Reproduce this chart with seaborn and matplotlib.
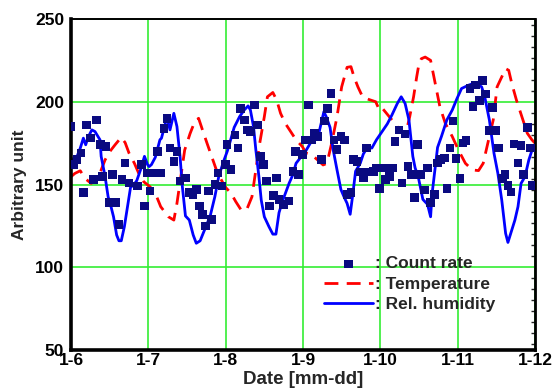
import numpy as np
import pandas as pd
import matplotlib
matplotlib.use("Agg")
import matplotlib.pyplot as plt
from matplotlib.ticker import MultipleLocator
import seaborn as sns

# ---- data (x in days since 1-6) ----
date_ticks = [0, 1, 2, 3, 4, 5, 6]
date_labels = ["1-6", "1-7", "1-8", "1-9", "1-10", "1-11", "1-12"]
y_ticks = [50, 100, 150, 200, 250]

count_x = [0.00, 0.04, 0.08, 0.13, 0.16, 0.20, 0.25, 0.29, 0.33, 0.38, 0.41, 0.45, 0.50, 0.54,
           0.58, 0.62, 0.66, 0.70, 0.75, 0.86, 0.91, 0.95, 0.99, 1.02, 1.05, 1.11, 1.16, 1.12,
           1.20, 1.24, 1.28, 1.33, 1.37, 1.41, 1.48, 1.53, 1.58, 1.62, 1.66, 1.70, 1.74, 1.78,
           1.82, 1.86, 1.90, 1.95, 2.00, 2.02, 2.07, 2.12, 2.16, 2.19, 2.24, 2.28, 2.32, 2.37,
           2.41, 2.45, 2.49, 2.53, 2.57, 2.62, 2.66, 2.69, 2.75, 2.82, 2.87, 2.90, 2.94, 2.99,
           3.03, 3.07, 3.11, 3.15, 3.19, 3.24, 3.28, 3.32, 3.36, 3.40, 3.44, 3.49, 3.54, 3.57,
           3.62, 3.65, 3.70, 3.74, 3.78, 3.82, 3.86, 3.91, 3.95, 3.99, 4.04, 4.07, 4.12, 4.16,
           4.19, 4.24, 4.28, 4.32, 4.36, 4.40, 4.44, 4.48, 4.52, 4.57, 4.61, 4.65, 4.70, 4.74,
           4.78, 4.83, 4.86, 4.90, 4.94, 4.98, 5.03, 5.07, 5.11, 5.16, 5.20, 5.23, 5.28, 5.32,
           5.36, 5.41, 5.45, 5.49, 5.53, 5.58, 5.61, 5.65, 5.69, 5.73, 5.78, 5.82, 5.85, 5.90,
           5.94, 5.97]
count_rate = [185, 162, 165, 169, 145, 186, 178, 153, 189, 174, 155, 173, 139, 156,
              139, 126, 153, 163, 151, 149, 162, 137, 157, 146, 157, 157, 157, 170,
              184, 190, 172, 164, 170, 152, 154, 145, 144, 147, 137, 132, 125, 146,
              129, 150, 157, 149, 162, 174, 159, 180, 172, 196, 189, 183, 182, 198,
              186, 167, 162, 152, 137, 143.5, 154, 141, 138, 140, 158, 170, 156, 168,
              177, 198, 177, 181, 179, 165, 188.5, 196, 205, 177, 171, 179, 177, 144,
              145, 165, 164, 157.5, 154, 172, 157.5, 158, 160, 147.5, 160, 153, 155, 160,
              176, 183, 151, 180.5, 161, 156, 142, 174, 156, 146.7, 160, 139, 144, 163,
              165, 166, 147.5, 172, 188.5, 165.6, 153.7, 175, 176.5, 208, 197, 210, 200.6, 212.7,
              204.7, 182.5, 196.6, 182.5, 172, 153.7, 156, 149.5, 145.5, 174.5, 163, 173.5, 156, 184.5,
              172, 149.5]

temp_x = [0.00, 0.05, 0.12, 0.18, 0.26, 0.34, 0.39, 0.44, 0.50, 0.57, 0.65, 0.70, 0.75, 0.82,
          0.88, 0.94, 1.02, 1.09, 1.16, 1.26, 1.33, 1.37, 1.42, 1.47, 1.54, 1.60, 1.65, 1.70,
          1.76, 1.82, 1.88, 1.93, 1.99, 2.07, 2.13, 2.20, 2.27, 2.34, 2.39, 2.44, 2.50, 2.54,
          2.61, 2.66, 2.71, 2.77, 2.84, 2.91, 2.99, 3.04, 3.11, 3.19, 3.26, 3.31, 3.37, 3.44,
          3.50, 3.57, 3.62, 3.66, 3.71, 3.77, 3.85, 3.94, 3.98, 4.01, 4.08, 4.15, 4.24, 4.30,
          4.34, 4.38, 4.43, 4.47, 4.50, 4.53, 4.58, 4.65, 4.71, 4.77, 4.84, 4.93, 5.01, 5.10,
          5.19, 5.27, 5.33, 5.40, 5.46, 5.51, 5.57, 5.62, 5.66, 5.70, 5.76, 5.83, 5.90, 5.96,
          6.00]
temperature = [154.7, 156.7, 158.3, 153.7, 150.7, 152.7, 158.8, 164.8, 169.8, 174, 178.5, 175.3, 169, 162.8,
               156.3, 151.7, 148.7, 144.7, 136.6, 130.5, 128.5, 138.6, 154.7, 170.8, 180.8, 188, 190, 183,
               174.8, 166.8, 158.8, 154, 148.7, 144.7, 139.7, 134.6, 134.6, 142.6, 158.8, 174.8, 191, 203,
               205.6, 201, 193, 187, 182, 177, 173, 169, 168, 164.8, 161.8, 162.8, 174.8, 191,
               209, 220.8, 221.2, 215, 209, 203, 201.4, 200, 195.8, 197, 193, 189, 183.7, 179.7,
               183, 191, 203, 215, 223, 226, 227, 225, 211, 197, 187, 179, 170.8, 162.8,
               158.8, 158.4, 162.8, 177, 189, 209, 215, 220, 219, 211, 201, 191, 181, 177,
               175]

rh_x = [0.00, 0.02, 0.07, 0.12, 0.16, 0.19, 0.22, 0.27, 0.31, 0.375, 0.39, 0.44, 0.48, 0.51,
        0.55, 0.59, 0.62, 0.65, 0.69, 0.73, 0.77, 0.81, 0.85, 0.90, 0.95, 0.99, 1.01, 1.04,
        1.09, 1.15, 1.17, 1.22, 1.24, 1.28, 1.33, 1.37, 1.41, 1.44, 1.48, 1.53, 1.58, 1.62,
        1.67, 1.73, 1.80, 1.86, 1.91, 1.97, 2.02, 2.04, 2.11, 2.18, 2.24, 2.29, 2.32, 2.36,
        2.39, 2.43, 2.46, 2.50, 2.56, 2.61, 2.65, 2.69, 2.74, 2.82, 2.87, 2.91, 2.98, 3.02,
        3.12, 3.18, 3.21, 3.27, 3.30, 3.35, 3.39, 3.44, 3.49, 3.53, 3.57, 3.61, 3.64, 3.68,
        3.74, 3.78, 3.84, 3.89, 3.95, 4.03, 4.09, 4.15, 4.22, 4.27, 4.32, 4.37, 4.42, 4.45,
        4.49, 4.55, 4.61, 4.65, 4.67, 4.72, 4.74, 4.79, 4.86, 4.93, 4.99, 5.05, 5.14, 5.20,
        5.25, 5.31, 5.35, 5.41, 5.47, 5.52, 5.57, 5.62, 5.65, 5.70, 5.74, 5.78, 5.82, 5.87,
        5.92, 5.97, 6.00]
humidity = [166.4, 164, 166, 172, 178, 174, 178.5, 183, 182, 177, 167, 155, 142.6, 138,
            130.5, 119.5, 116, 116, 124.5, 136.6, 148.3, 149.7, 152.3, 159, 167, 162, 160.8, 162,
            166.4, 177, 178, 187, 191, 183, 193, 185, 167, 148.7, 131, 128.5, 119.5, 114.5,
            116, 123, 131, 142.6, 154.7, 163.6, 170, 173, 184.5, 191, 195, 197.5, 195, 185,
            171, 154.7, 140.6, 130.5, 124.5, 120, 120, 133, 140.6, 150.7, 156, 162.8, 167, 169,
            177, 178.5, 182, 194, 191, 184.5, 171, 158.8, 147, 142.6, 138.6, 132, 142.6, 158,
            162.8, 168.4, 173, 172, 177, 182.5, 186.6, 192, 199, 203, 199, 189, 167, 160,
            154.7, 141, 138, 130.5, 144.7, 164.8, 172.4, 179, 189, 195, 201.8, 208, 210, 211,
            210.7, 209, 203, 189, 168.8, 156.7, 140.6, 120.5, 115, 122.5, 128.5, 136.6, 150.7, 154.7,
            164.8, 172, 174]

df_count = pd.DataFrame({"x": count_x, "y": count_rate})
df_temp = pd.DataFrame({"x": temp_x, "y": temperature})
df_rh = pd.DataFrame({"x": rh_x, "y": humidity})

sns.set_style("white")
plt.rcParams["font.family"] = ["Liberation Sans", "DejaVu Sans"]
plt.rcParams["font.weight"] = "bold"

fig = plt.figure(figsize=(5.54, 3.92), dpi=100)
ax = fig.add_axes([71 / 554, 1 - 350 / 392, (535 - 71) / 554, (350 - 19) / 392])

ax.grid(True, color="#33ee33", linewidth=1.2)
ax.set_axisbelow(True)

sns.lineplot(data=df_temp, x="x", y="y", ax=ax, sort=False, estimator=None,
             color="#ff0000", linewidth=2.0, dashes=False, label=": Temperature")
ax.lines[-1].set_dashes([5, 3])
sns.lineplot(data=df_rh, x="x", y="y", ax=ax, sort=False, estimator=None,
             color="#0000ff", linewidth=2.0, label=": Rel. humidity")
sns.scatterplot(data=df_count, x="x", y="y", ax=ax, marker="s", s=38,
                color="#0a0a80", edgecolor="none", linewidth=0, label=": Count rate", zorder=3)

ax.set_xlim(0, 6)
ax.set_ylim(50, 250)
ax.set_xticks(date_ticks)
ax.set_xticklabels(date_labels)
ax.set_yticks(y_ticks)
ax.tick_params(axis="both", which="major", direction="in", length=6, width=2,
               labelsize=12.5, colors="black")
ax.tick_params(axis="x", pad=2)
ax.tick_params(axis="y", pad=5)
ax.yaxis.set_minor_locator(MultipleLocator(100 / 15))
ax.tick_params(axis="y", which="minor", left=False, right=True, direction="in",
               length=3, width=1)
for lab in ax.get_xticklabels() + ax.get_yticklabels():
    lab.set_fontweight("bold")

for side in ["left", "bottom"]:
    ax.spines[side].set_linewidth(2.6)
    ax.spines[side].set_color("black")
ax.spines["right"].set_linewidth(2.0)
ax.spines["top"].set_linewidth(1.4)
for side in ["right", "top"]:
    ax.spines[side].set_color("black")
    ax.spines[side].set_visible(True)

ax.set_xlabel("Date [mm-dd]", fontsize=13.5, fontweight="bold", labelpad=2)
ax.set_ylabel("Arbitrary unit", fontsize=12.5, fontweight="bold", labelpad=6)

handles, labels = ax.get_legend_handles_labels()
order = [labels.index(": Count rate"), labels.index(": Temperature"), labels.index(": Rel. humidity")]
leg = ax.legend([handles[i] for i in order], [labels[i] for i in order],
                loc="center", bbox_to_anchor=(0.73, 0.199), frameon=False,
                handlelength=2.8, handletextpad=0.1, labelspacing=0.3,
                borderpad=0, prop={"weight": "bold", "size": 12.5})

fig.savefig("out.png", dpi=100)
